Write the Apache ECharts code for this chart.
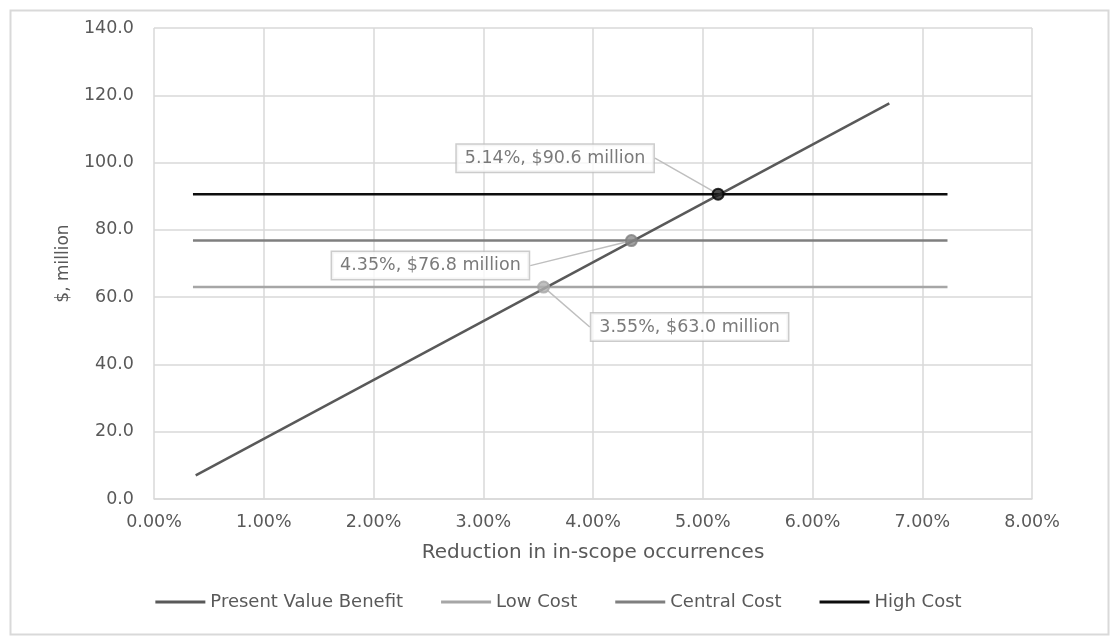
<!DOCTYPE html>
<html>
<head>
<meta charset="utf-8">
<script src="https://cdn.jsdelivr.net/npm/echarts@6/dist/echarts.min.js"></script>
<style>
html,body{margin:0;padding:0;background:#fff;}
#chart{width:1117px;height:640px;}
</style>
</head>
<body>
<div id="chart"></div>
<script>
// Data
const seriesNames = ['Present Value Benefit', 'Low Cost', 'Central Cost', 'High Cost'];
const benefitX = [0.38, 6.70];
const benefitY = [7.0, 117.6];
const costX = [0.355, 7.23];
const lowCost = 63.0;
const centralCost = 76.8;
const highCost = 90.6;
const breakEvenX = [3.55, 4.35, 5.14];
const breakEvenY = [63.0, 76.8, 90.6];
const breakEvenLabels = ['3.55%, $63.0 million', '4.35%, $76.8 million', '5.14%, $90.6 million'];
const yTicks = [0, 140, 20];
const xTicks = [0, 8, 1];

const FONT = 'DejaVu Sans';
const TXT = '#595959';
const chart = echarts.init(document.getElementById('chart'), null, {renderer: 'canvas'});

const pair = (xs, ys) => xs.map((x, i) => [x, ys[i]]);
const flat = (xs, v) => xs.map(x => [x, v]);

const markerColors = ['#b0b0b0', '#8a8a8a', '#1a1a1a'];
const markerBorders = ['#a6a6a6', '#808080', '#000000'];
const labelOffsets = [[146, 40], [-201, 25], [-163, -36]];

const option = {
  animation: false,
  textStyle: {fontFamily: FONT},
  graphic: [{
    type: 'rect', left: 8, top: 8,
    shape: {width: 1098, height: 624},
    style: {fill: 'none', stroke: '#d9d9d9', lineWidth: 2},
    silent: true
  }],
  grid: {left: 154, right: 85, top: 28, bottom: 141, containLabel: false},
  legend: {
    data: seriesNames,
    bottom: 24,
    left: 'center',
    icon: 'rect',
    itemWidth: 50,
    itemHeight: 3,
    itemGap: 38,
    textStyle: {color: TXT, fontSize: 18, fontFamily: FONT}
  },
  xAxis: {
    type: 'value',
    min: xTicks[0], max: xTicks[1], interval: xTicks[2],
    name: 'Reduction in in-scope occurrences',
    nameLocation: 'middle',
    nameGap: 44,
    nameTextStyle: {color: TXT, fontSize: 20, fontFamily: FONT},
    axisLine: {show: true, lineStyle: {color: '#d9d9d9', width: 1.5}},
    axisTick: {show: false},
    axisLabel: {color: TXT, fontSize: 17.5, margin: 14, fontFamily: FONT,
      formatter: v => v.toFixed(2) + '%'},
    splitLine: {show: true, lineStyle: {color: '#d9d9d9', width: 1.5}}
  },
  yAxis: {
    type: 'value',
    min: yTicks[0], max: yTicks[1], interval: yTicks[2],
    name: '$, million',
    nameLocation: 'middle',
    nameGap: 82,
    nameRotate: 90,
    nameTextStyle: {color: TXT, fontSize: 17, fontFamily: FONT},
    axisLine: {show: false},
    axisTick: {show: false},
    axisLabel: {color: TXT, fontSize: 17.5, margin: 20, fontFamily: FONT,
      formatter: v => v.toFixed(1)},
    splitLine: {show: true, lineStyle: {color: '#d9d9d9', width: 1.5}}
  },
  series: [
    {
      name: seriesNames[1], type: 'line', symbol: 'none',
      data: flat(costX, lowCost),
      lineStyle: {color: '#a6a6a6', width: 2.5}, itemStyle: {color: '#a6a6a6'}, z: 2
    },
    {
      name: seriesNames[2], type: 'line', symbol: 'none',
      data: flat(costX, centralCost),
      lineStyle: {color: '#7f7f7f', width: 2.5}, itemStyle: {color: '#7f7f7f'}, z: 2
    },
    {
      name: seriesNames[3], type: 'line', symbol: 'none',
      data: flat(costX, highCost),
      lineStyle: {color: '#0d0d0d', width: 2.5}, itemStyle: {color: '#0d0d0d'}, z: 2
    },
    {
      name: seriesNames[0], type: 'line', symbol: 'none',
      data: pair(benefitX, benefitY),
      lineStyle: {color: '#595959', width: 2.5}, itemStyle: {color: '#595959'}, z: 3
    },
    {
      name: 'Break-even', type: 'scatter', symbol: 'circle', symbolSize: 11, z: 5,
      data: breakEvenX.map((x, i) => ({
        value: [x, breakEvenY[i]],
        itemStyle: {color: markerColors[i], borderColor: markerBorders[i], borderWidth: 2}
      })),
      label: {
        show: true, position: 'inside',
        formatter: p => breakEvenLabels[p.dataIndex],
        color: TXT, fontSize: 17.5, fontFamily: FONT,
        backgroundColor: '#ffffff',
        borderColor: '#bfbfbf', borderWidth: 1.5,
        padding: [5, 8, 4, 8]
      },
      labelLine: {show: true, lineStyle: {color: '#bfbfbf', width: 1.5}},
      labelLayout: p => ({dx: labelOffsets[p.dataIndex][0], dy: labelOffsets[p.dataIndex][1]})
    }
  ]
};
chart.setOption(option);
</script>
</body>
</html>
